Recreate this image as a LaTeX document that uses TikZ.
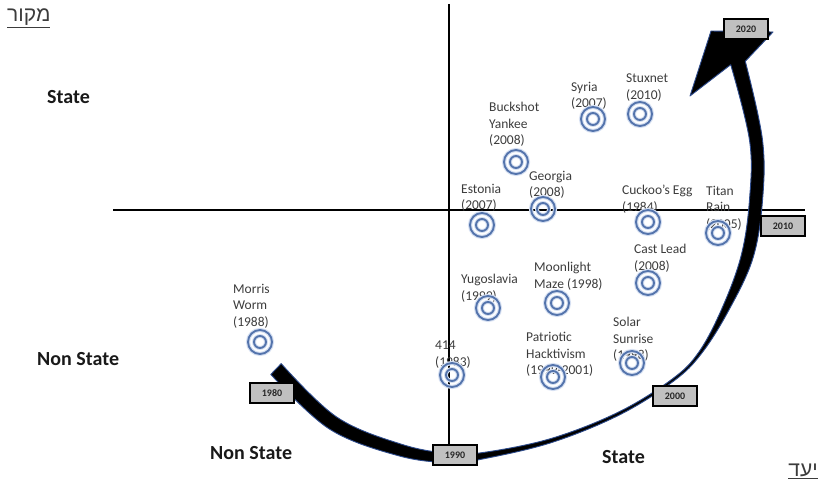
\documentclass[tikz,border=0pt]{standalone}
\usepackage{fontspec}
\setmainfont{Carlito}
\newfontfamily\hebfont[Script=Hebrew]{Liberation Sans}
\TeXXeTstate=1
\definecolor{ringc}{RGB}{84,116,172}
\definecolor{glowc}{RGB}{214,224,242}
\definecolor{boxc}{RGB}{192,192,192}
\definecolor{labelc}{RGB}{60,60,60}
\definecolor{bigc}{RGB}{25,25,25}
\definecolor{arcedge}{RGB}{45,75,140}
\begin{document}
\begin{tikzpicture}[x=1pt,y=-1pt,
  lbl/.style={anchor=north west, inner sep=0, align=left, text=labelc,
    font=\fontsize{13.5}{16.5}\selectfont},
  big/.style={anchor=north west, inner sep=0, text=bigc,
    font=\fontsize{20}{24}\selectfont\bfseries},
  heb/.style={inner sep=0, text=labelc, font=\hebfont\fontsize{21}{24}\selectfont},
  yearbox/.style={draw=black, line width=1.4pt, fill=boxc, minimum width=44pt,
    minimum height=20pt, inner sep=0, text=black!85,
    font=\fontsize{10}{11}\selectfont\bfseries},
  target/.style={circle, draw=ringc, line width=1.9pt, minimum size=24pt, inner sep=0,
    preaction={draw=glowc, line width=4.2pt},
    path picture={
      \draw[glowc, line width=4pt] (path picture bounding box.center) circle (6pt);
      \draw[ringc, line width=1.9pt] (path picture bounding box.center) circle (6pt);}},
  axis/.style={draw=black, line width=2pt}
]
\useasboundingbox (0,0) rectangle (822,487);

\coordinate (vtop) at (449,4);
\coordinate (hl) at (113,210);
\coordinate (hr) at (805,210);
\path (455,455) node[yearbox] (y1990) {1990};

% axes
\draw[axis] (vtop) -- (y1990.north -| vtop);
\draw[axis, line width=2.8pt] (hl) -- (hr);

% labels
\node[lbl] (lStux) at (626,74) {Stuxnet\\(2010)};
\node[lbl] (lSyr) at (571,82) {Syria\\(2007)};
\node[lbl] (lBuck) at (489,102) {Buckshot\\Yankee\\(2008)};
\node[lbl] (lGeo) at (529,171) {Georgia\\(2008)};
\node[lbl] (lEst) at (461,184) {Estonia\\(2007)};
\node[lbl] (lCuck) at (622,185) {Cuckoo’s Egg\\(1984)};
\node[lbl] (lTitan) at (706,186) {Titan\\Rain\\(2005)};
\node[lbl] (lCast) at (634,244) {Cast Lead\\(2008)};
\node[lbl] (lYug) at (461,274) {Yugoslavia\\(1999)};
\node[lbl] (lMoon) at (534,262) {Moonlight\\Maze (1998)};
\node[lbl] (lPat) at (526,332) {Patriotic\\Hacktivism\\(1999-2001)};
\node[lbl] (lSol) at (613,317) {Solar\\Sunrise\\(1998)};
\node[lbl] (l414) at (435,341) {414\\(1983)};
\node[lbl] (lMor) at (233,284) {Morris\\Worm\\(1988)};

% targets
\node[target] (tStux) at (640,114) {};
\node[target] (tSyr) at (593,119) {};
\node[target] (tBuck) at (516,162) {};
\node[target] (tGeo) at (543,209) {};
\node[target] (tEst) at (482,225) {};
\node[target] (tCuck) at (648,222) {};
\node[target] (tTitan) at (718,233) {};
\node[target] (tCast) at (648,283) {};
\node[target] (tYug) at (488,308) {};
\node[target] (tMoon) at (557,303) {};
\node[target] (t414) at (452,375) {};
\node[target] (tPat) at (553,377) {};
\node[target] (tSol) at (632,363) {};
\node[target] (tMor) at (260,342) {};

% big time arrow
\fill[black, draw=arcedge, line width=0.9pt, line join=round]
  plot[smooth, tension=0.6] coordinates {(270.8,374.4) (329.2,428.9) (398.3,455.7) (449.7,462.5)
    (487.5,458.0) (553.6,441.9) (620.7,414.3) (673.75,381) (701.2,353.9) (728.1,311.5)
    (752.8,258.6) (762.5,200.5) (762.4,139.2) (745.3,61.3)}
  -- (773,32) -- (711,31) -- (690,96)
  -- plot[smooth, tension=0.6] coordinates {(730.7,64.7) (749.6,140.8) (749.5,199.5) (741.2,255.4)
    (721.9,308.5) (698.8,352.1) (672.25,379) (619.3,411.7) (552.4,438.1) (486.5,452.0)
    (450.3,453.5) (401.7,444.3) (336.8,417.1) (281.2,363.6)}
  -- cycle;

% year boxes on top
\node[yearbox] (y2020) at (746,29) {2020};
\node[yearbox] (y2010) at (783,226) {2010};
\node[yearbox] (y2000) at (675,396) {2000};
\node[yearbox] at (y1990) {1990};
\node[yearbox] (y1980) at (272,393) {1980};

% quadrant labels
\node[big] (bState1) at (47,90) {State};
\node[big] (bNon1) at (37,352) {Non State};
\node[big] (bNon2) at (210,446) {Non State};
\node[big] (bState2) at (602,450) {State};

% hebrew axis titles
\node[heb, anchor=north west] (src) at (7,9) {\underline{\beginR מקור\endR}};
\node[heb, anchor=north east] (dst) at (818,464) {\underline{\beginR יעד\endR}};
\end{tikzpicture}
\end{document}
